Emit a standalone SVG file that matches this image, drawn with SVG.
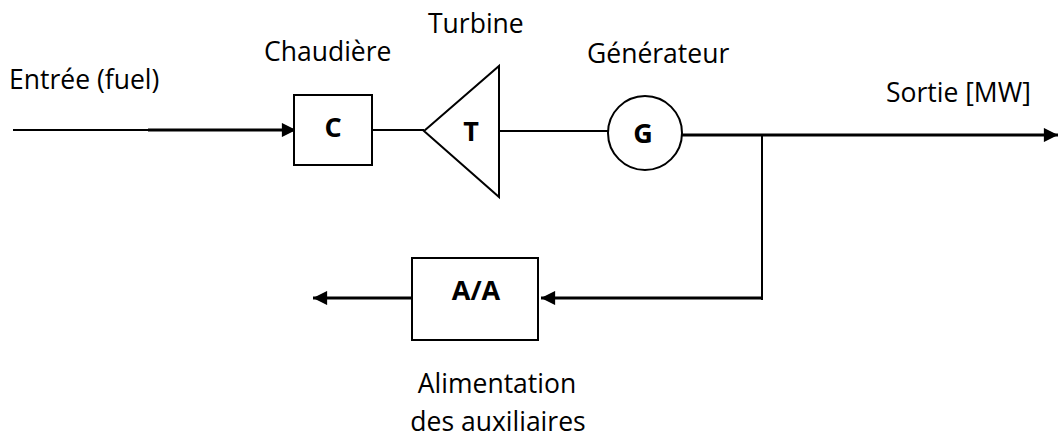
<svg xmlns="http://www.w3.org/2000/svg" width="1059" height="437" viewBox="0 0 1059 437">
<style>
.lbl{font-family:"Open Sans","Liberation Sans",sans-serif;font-size:26.5px;fill:#000}
.sym{font-family:"Open Sans","Liberation Sans",sans-serif;font-size:27px;font-weight:bold;fill:#000;text-anchor:middle}
.shape{fill:#fff;stroke:#000;stroke-width:2}
.wire{fill:none;stroke:#000;stroke-width:2}
.thick{fill:none;stroke:#000;stroke-width:3}
</style>
<defs>
<marker id="arr" viewBox="0 0 10 10" refX="10" refY="5" markerWidth="5.3" markerHeight="4.7" markerUnits="strokeWidth" orient="auto">
<path d="M0,0 L10,5 L0,10 z" fill="#000"/>
</marker>
</defs>
<rect width="1059" height="437" fill="#fff"/>
<g id="connectors">
<line class="wire" x1="13" y1="130" x2="150" y2="130"/>
<line class="thick" x1="148" y1="130" x2="296" y2="130" marker-end="url(#arr)"/>
<line class="wire" x1="372" y1="130" x2="424" y2="130"/>
<line class="wire" x1="499" y1="131" x2="608" y2="131"/>
<line class="thick" x1="682" y1="135" x2="1058" y2="135" marker-end="url(#arr)"/>
<line class="wire" x1="762" y1="135" x2="762" y2="300"/>
<line class="thick" x1="763" y1="298" x2="541" y2="298" marker-end="url(#arr)"/>
<line class="thick" x1="412" y1="298" x2="313" y2="298" marker-end="url(#arr)"/>
</g>
<g id="node-chaudiere">
<rect class="shape" x="294" y="95" width="78" height="70"/>
<text class="sym" x="333" y="137">C</text>
<text class="lbl" x="264" y="61">Chaudière</text>
</g>
<g id="node-turbine">
<polygon class="shape" points="424,131 499,66 499,197"/>
<text class="sym" x="471" y="141">T</text>
<text class="lbl" x="428" y="33">Turbine</text>
</g>
<g id="node-generateur">
<circle class="shape" cx="645" cy="133" r="37"/>
<text class="sym" x="643" y="143">G</text>
<text class="lbl" x="587" y="63">Générateur</text>
</g>
<g id="node-entree">
<text class="lbl" x="9" y="89">Entrée (fuel)</text>
</g>
<g id="node-sortie">
<text class="lbl" x="886" y="102">Sortie [MW]</text>
</g>
<g id="node-aa">
<rect class="shape" x="412" y="258" width="126" height="82"/>
<text class="sym" x="476" y="300">A/A</text>
<text class="lbl" x="497" y="393" text-anchor="middle">Alimentation</text>
<text class="lbl" x="498" y="431" text-anchor="middle">des auxiliaires</text>
</g>
</svg>
